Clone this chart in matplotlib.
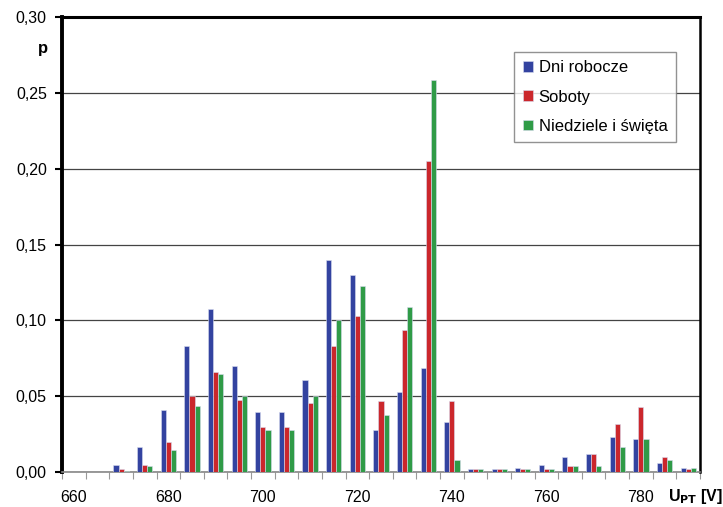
import matplotlib.pyplot as plt
from matplotlib.ticker import FuncFormatter, MultipleLocator
import numpy as np

plt.rcParams['font.family'] = ['Liberation Sans', 'DejaVu Sans']

# napięcie U_PT [V], przedziały co 5 V
voltages = list(range(660, 795, 5))

dni_robocze = [0.0, 0.0, 0.0046, 0.0167, 0.0407, 0.0828, 0.1077, 0.0698, 0.0396,
               0.0396, 0.0608, 0.140, 0.130, 0.0277, 0.0528, 0.0689, 0.0328, 0.0018,
               0.0018, 0.0026, 0.0048, 0.0097, 0.0119, 0.0229, 0.0218, 0.0057, 0.0026]
soboty = [0.0, 0.0, 0.0018, 0.0046, 0.0196, 0.050, 0.0658, 0.0478, 0.0297,
          0.0297, 0.0458, 0.0828, 0.103, 0.0467, 0.0938, 0.205, 0.0467, 0.0018,
          0.0018, 0.0018, 0.0018, 0.0037, 0.0119, 0.0317, 0.0427, 0.0097, 0.0018]
niedziele = [0.0, 0.0, 0.0004, 0.0037, 0.0147, 0.0438, 0.0647, 0.050, 0.0277,
             0.0277, 0.050, 0.0999, 0.1229, 0.0376, 0.109, 0.2583, 0.0077, 0.0018,
             0.0018, 0.0018, 0.0018, 0.0037, 0.0037, 0.0167, 0.0218, 0.0077, 0.0026]

labels = ['Dni robocze', 'Soboty', 'Niedziele i święta']
colors = ['#3343a0', '#cb272c', '#2f9b47']
x_labels = [660, 680, 700, 720, 740, 760, 780]

fig = plt.figure(figsize=(7.23, 5.07), dpi=100)
ax = fig.add_axes([0.0858, 0.069, 0.8824, 0.8975])

x = np.array(voltages, dtype=float)
w = 1.08
for i, (vals, lab, col) in enumerate(zip([dni_robocze, soboty, niedziele], labels, colors)):
    ax.bar(x + (i - 1) * w, vals, width=w, color=col, edgecolor='#d8dcef',
           linewidth=0.4, label=lab, zorder=3)

ax.set_xlim(657.5, 792.5)
ax.set_ylim(0, 0.30)

# oś Y
ax.yaxis.set_major_locator(MultipleLocator(0.05))
ax.yaxis.set_major_formatter(FuncFormatter(lambda v, p: f'{v:.2f}'.replace('.', ',')))
ax.tick_params(axis='y', direction='out', length=5, width=1.5, color='black',
               labelsize=11.5, pad=6)
ax.grid(axis='y', color='#444444', linewidth=0.9, zorder=1)

# oś X: kreski na granicach przedziałów, opisy co 20 V
ax.set_xticks(x_labels)
ax.set_xticklabels([str(v) for v in x_labels])
ax.set_xticks(np.arange(657.5, 793, 5), minor=True)
ax.tick_params(axis='x', which='major', length=0, labelsize=11.5, pad=13)
ax.tick_params(axis='x', which='minor', direction='out', length=5, width=0.8, color='#999999')

ax.spines['left'].set_linewidth(2.8)
ax.spines['left'].set_color('black')
ax.spines['top'].set_linewidth(2.2)
ax.spines['right'].set_linewidth(1.8)
ax.spines['bottom'].set_linewidth(1.2)
ax.spines['bottom'].set_color('#888888')

fig.text(0.060, 0.905, 'p', fontsize=12, fontweight='bold', ha='center', va='center')
fig.text(0.924, 0.012, r'U$_{\mathbf{PT}}$ [V]', fontsize=11.5, fontweight='bold',
         ha='left', va='baseline')

leg = ax.legend(loc='upper right', bbox_to_anchor=(0.962, 0.923), fontsize=12,
                frameon=True, fancybox=False, edgecolor='#777777', handlelength=0.6,
                handleheight=0.6, handletextpad=0.35, borderpad=0.5, labelspacing=0.85,
                borderaxespad=0)
leg.get_frame().set_linewidth(1.0)
leg.set_zorder(5)

fig.savefig('out.png', dpi=100)
